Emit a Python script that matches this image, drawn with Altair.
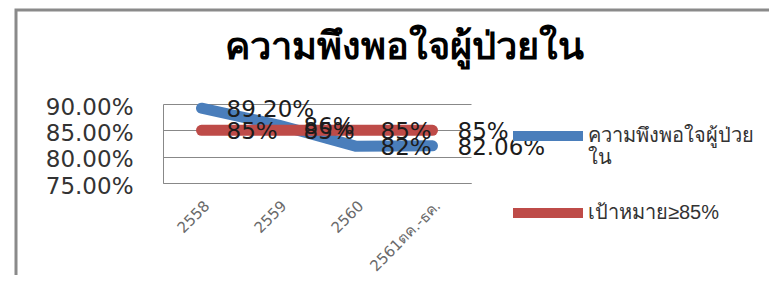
import altair as alt
import pandas as pd

years = ["2558", "2559", "2560", "2561ตค.-ธค."]
satisfaction = [0.892, 0.86, 0.82, 0.8206]
target = [0.85, 0.85, 0.85, 0.85]
sat_labels = ["89.20%", "86%", "82%", "82.06%"]
target_labels = ["85%", "85%", "85%", "85%"]
series_names = ["ความพึงพอใจผู้ป่วยใน", "เป้าหมาย≥85%"]
colors = ["#4A7EBB", "#BE4B48"]
y_ticks = [0.75, 0.80, 0.85, 0.90]

rows = []
for i, yr in enumerate(years):
    rows.append({"year": yr, "series": series_names[0], "value": satisfaction[i], "label": sat_labels[i]})
for i, yr in enumerate(years):
    rows.append({"year": yr, "series": series_names[1], "value": target[i], "label": target_labels[i]})
df = pd.DataFrame(rows)

FONT = "DejaVu Sans"

x_enc = alt.X(
    "year:N", sort=years, title=None,
    axis=alt.Axis(labelAngle=-45, labelFontSize=15, labelColor="#6a6a6a", labelFont=FONT,
                  ticks=False, domainColor="#888888", labelPadding=15, grid=False),
)
y_enc = alt.Y(
    "value:Q", title=None,
    scale=alt.Scale(domain=[0.75, 0.90], nice=False, zero=False),
    axis=alt.Axis(values=y_ticks, format=".2%", labelFontSize=23, labelColor="#333333", labelFont=FONT,
                  ticks=False, domainColor="#888888", gridColor="#888888", labelPadding=30, labelOffset=3),
)
color_enc = alt.Color(
    "series:N", title=None,
    scale=alt.Scale(domain=series_names, range=colors),
    legend=alt.Legend(orient="none", legendX=338, legendY=-8, symbolType="stroke", symbolSize=4900,
                      symbolStrokeWidth=10, symbolOffset=7, labelFontSize=20, labelColor="#333333",
                      padding=0, rowPadding=5, labelOffset=0, labelLimit=300,
                      labelExpr="datum.label == 'ความพึงพอใจผู้ป่วยใน' ? ['ความพึงพอใจผู้ป่วย', 'ใน'] : datum.label"),
)

frame = alt.Chart(pd.DataFrame({"a": [0]})).mark_rect(
    fill=None, stroke="#8a8a8a", strokeWidth=3
).encode(x=alt.value(-147), x2=alt.value(640), y=alt.value(-94), y2=alt.value(220))

base = alt.Chart(df)
blue = base.transform_filter(alt.datum.series == series_names[0]).mark_line(
    strokeWidth=11, strokeCap="round", strokeJoin="round").encode(x=x_enc, y=y_enc, color=color_enc)
red = base.transform_filter(alt.datum.series == series_names[1]).mark_line(
    strokeWidth=11, strokeCap="round", strokeJoin="round").encode(x=x_enc, y=y_enc, color=color_enc)
labels = base.mark_text(align="left", baseline="middle", dx=25, dy=2, fontSize=23, font=FONT,
                        color="#1c1c1c").encode(x=x_enc, y=y_enc, text="label:N")

chart = alt.layer(frame, blue, red, labels).properties(
    width=308, height=79,
    title=alt.TitleParams("ความพึงพอใจผู้ป่วยใน", fontSize=38, fontWeight="bold", color="#000000",
                          anchor="middle", frame="group", dx=87, offset=0, dy=58),
    autosize=alt.AutoSizeParams(type="none"),
    padding={"left": 155, "top": 96, "right": 298, "bottom": 92},
).configure_view(stroke=None).configure_axis(labelFont=FONT)

chart.save("out.html", embed_options={"renderer": "svg", "actions": False})
